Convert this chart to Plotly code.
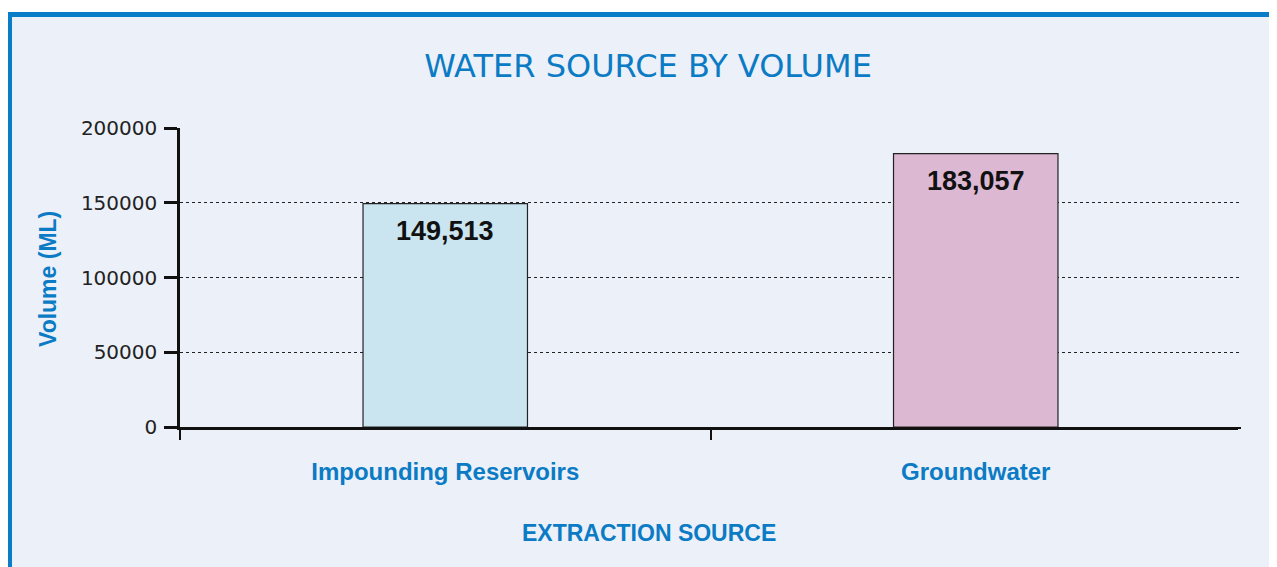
import plotly.graph_objects as go

categories = ["Impounding Reservoirs", "Groundwater"]
volumes = [149513, 183057]
bar_colors = ["#CBE5F0", "#DDB8D2"]
y_tickvals = [0, 50000, 100000, 150000, 200000]
y_ticktext = ["0", "50000", "100000", "150000", "200000"]

BLUE = "#0A7BC4"
BG = "#ECF0F8"

# page offset (browser body margin)
OFF = 8
FW, FH = 1277 - OFF, 567 - OFF
L, T = 180, 128          # plot area left/top in page pixels
PW, PH = 1061, 299

def px(p):
    return (p - L) / PW

def py(p):
    return (T + PH - p) / PH

fig = go.Figure()
fig.add_trace(go.Bar(
    x=categories, y=volumes, width=0.31,
    marker=dict(color=bar_colors, line=dict(color="#222222", width=1.2)),
    hoverinfo="x+y", showlegend=False,
))

for c, v in zip(categories, volumes):
    fig.add_annotation(x=c, y=v, text=f"{v:,}", showarrow=False,
                       yanchor="middle", yshift=-27,
                       font=dict(family="Liberation Sans", size=27, color="#111111", weight="bold"))

# axis titles
fig.add_annotation(xref="paper", yref="paper", x=px(649), y=py(533), text="EXTRACTION SOURCE",
                   showarrow=False, xanchor="center", yanchor="middle",
                   font=dict(family="Liberation Sans", size=23, color=BLUE, weight="bold"))
fig.add_annotation(xref="paper", yref="paper", x=px(48), y=py(279), text="Volume (ML)",
                   textangle=-90, showarrow=False, xanchor="center", yanchor="middle",
                   font=dict(family="Liberation Sans", size=23, color=BLUE, weight="bold"))

shapes = [
    dict(type="rect", xref="paper", yref="paper", x0=px(-20), x1=px(1300), y0=py(12), y1=py(-20),
         fillcolor="white", line=dict(width=0), layer="below"),
    dict(type="rect", xref="paper", yref="paper", x0=px(0), x1=px(1300), y0=py(17), y1=py(12),
         fillcolor="#0A7DC8", line=dict(width=0), layer="below"),
    dict(type="rect", xref="paper", yref="paper", x0=px(0), x1=px(12), y0=py(600), y1=py(12),
         fillcolor="#0A7DC8", line=dict(width=0), layer="below"),
    # hide the right-end boundary tick (reference has none there)
    dict(type="rect", xref="paper", yref="paper", x0=px(1238), x1=px(1246), y0=py(429), y1=py(442),
         fillcolor=BG, line=dict(width=0), layer="above"),
]

fig.update_layout(
    width=FW, height=FH, autosize=False,
    margin=dict(l=L - OFF, r=FW - (L - OFF) - PW, t=T - OFF, b=FH - (T - OFF) - PH, pad=0),
    paper_bgcolor=BG, plot_bgcolor=BG,
    shapes=shapes,
    title=dict(text="WATER SOURCE BY VOLUME", x=(648 - OFF) / FW, xref="container", xanchor="center",
               y=1 - (66 - OFF) / FH, yref="container", yanchor="middle",
               font=dict(family="DejaVu Sans", size=32, color=BLUE)),
    xaxis=dict(
        type="category", range=[-0.5, 1.5],
        showline=True, linecolor="#111111", linewidth=2.5,
        ticks="outside", tickson="boundaries", ticklen=10, tickwidth=2, tickcolor="#111111",
        tickfont=dict(family="Liberation Sans", size=24, color=BLUE, weight="bold"),
        ticklabelstandoff=21,
        showgrid=False, zeroline=False,
    ),
    yaxis=dict(
        range=[0, 200200], tickvals=y_tickvals, ticktext=y_ticktext,
        showline=True, linecolor="#111111", linewidth=2.5,
        ticks="outside", ticklen=13, tickwidth=2.5, tickcolor="#111111",
        tickfont=dict(family="DejaVu Sans", size=20, color="#222222"),
        ticklabelstandoff=3,
        showgrid=True, gridcolor="#222222", gridwidth=1, griddash="dot",
        zeroline=False,
    ),
)

fig.write_html("out.html")
